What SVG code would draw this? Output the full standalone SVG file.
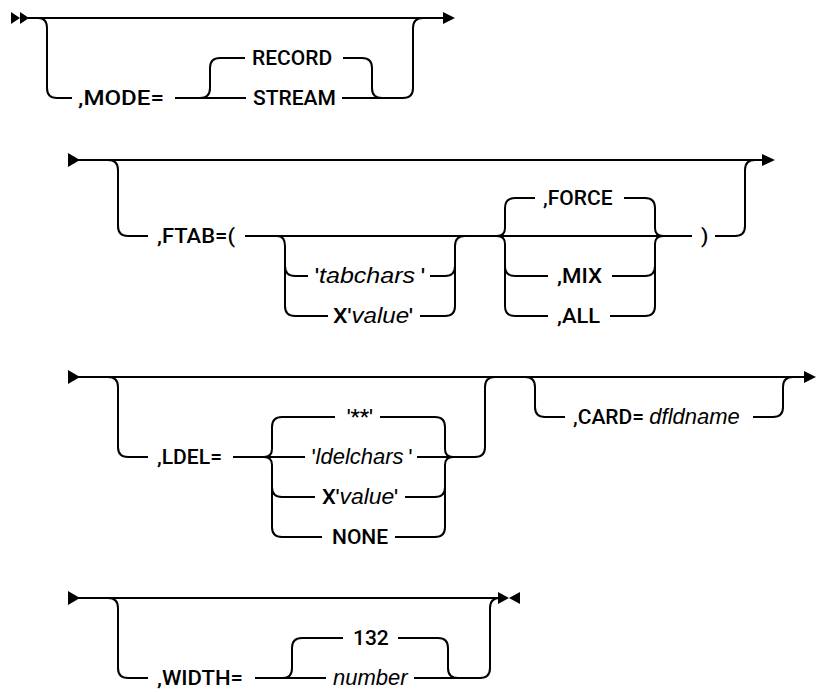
<svg xmlns="http://www.w3.org/2000/svg" width="817" height="692" viewBox="0 0 817 692">
<style>
.c{fill:none;stroke:#000;stroke-width:2}
.a{fill:#000;stroke:none}
.k{font-family:Roboto,"Liberation Sans",sans-serif;font-weight:500;font-size:21px;fill:#000}
.v{font-family:"Liberation Sans",Arial,sans-serif;font-style:italic;font-size:22px;font-weight:normal}
</style>
<rect width="817" height="692" fill="#fff"/>
<g id="connectors">
<polygon class="a" points="11,12 20,18 11,24"/>
<polygon class="a" points="20,12 29,18 20,24"/>
<path class="c" d="M28,18 H444"/>
<polygon class="a" points="443,12 455,18 443,24"/>
<path class="c" d="M38,18 Q47,18 47,28 V88 Q47,98 57,98 H72"/>
<path class="c" d="M175,98 H246"/>
<path class="c" d="M200,98 Q210,98 210,88 V68 Q210,58 220,58 H245"/>
<path class="c" d="M343,58 H362 Q372,58 372,68 V88 Q372,98 382,98"/>
<path class="c" d="M342,98 H403 Q413,98 413,88 V28 Q413,18 423,18"/>
<polygon class="a" points="68,153 80,160 68,167"/>
<path class="c" d="M78,160 H763"/>
<polygon class="a" points="762,154 775,160 762,166"/>
<path class="c" d="M108,160 Q118,160 118,170 V226 Q118,236 128,236 H148"/>
<path class="c" d="M245,236 H692"/>
<path class="c" d="M277,236 Q285,236 285,246 V306 Q285,316 295,316 H328"/>
<path class="c" d="M285,266 Q285,276 295,276 H308"/>
<path class="c" d="M420,316 H445 Q455,316 455,306 V246 Q455,236 465,236"/>
<path class="c" d="M430,276 H445 Q455,276 455,266"/>
<path class="c" d="M497,236 Q505,236 505,228 V208 Q505,198 515,198 H535"/>
<path class="c" d="M497,236 Q505,236 505,244 V306 Q505,316 515,316 H548"/>
<path class="c" d="M505,266 Q505,276 515,276 H548"/>
<path class="c" d="M624,198 H645 Q655,198 655,208 V228 Q655,236 663,236"/>
<path class="c" d="M612,276 H645 Q655,276 655,266"/>
<path class="c" d="M610,316 H645 Q655,316 655,306 V244 Q655,236 663,236"/>
<path class="c" d="M715,236 H735 Q745,236 745,226 V170 Q745,160 755,160"/>
<polygon class="a" points="68,370 80,377 68,384"/>
<path class="c" d="M78,377 H805"/>
<polygon class="a" points="804,371 816,377 804,383"/>
<path class="c" d="M108,377 Q118,377 118,387 V447 Q118,457 128,457 H148"/>
<path class="c" d="M233,457 H305"/>
<path class="c" d="M264,457 Q272,457 272,449 V427 Q272,417 282,417 H335"/>
<path class="c" d="M264,457 Q272,457 272,465 V527 Q272,537 282,537 H322"/>
<path class="c" d="M272,487 Q272,497 282,497 H315"/>
<path class="c" d="M380,417 H435 Q445,417 445,427 V449 Q445,457 453,457"/>
<path class="c" d="M417,457 H475 Q485,457 485,447 V387 Q485,377 495,377"/>
<path class="c" d="M395,537 H435 Q445,537 445,527 V465 Q445,457 453,457"/>
<path class="c" d="M405,497 H435 Q445,497 445,487"/>
<path class="c" d="M525,377 Q535,377 535,387 V407 Q535,417 545,417 H565"/>
<path class="c" d="M753,417 H773 Q783,417 783,407 V387 Q783,377 793,377"/>
<polygon class="a" points="68,591 80,598 68,605"/>
<path class="c" d="M78,598 H500"/>
<polygon class="a" points="498,592 509,598 498,604"/>
<polygon class="a" points="520,592 509,598 520,604"/>
<path class="c" d="M108,598 Q118,598 118,608 V668 Q118,678 128,678 H148"/>
<path class="c" d="M255,678 H326"/>
<path class="c" d="M283,678 Q292,678 292,668 V648 Q292,638 302,638 H343"/>
<path class="c" d="M398,638 H438 Q448,638 448,648 V668 Q448,678 458,678"/>
<path class="c" d="M414,678 H480 Q490,678 490,668 V608 Q490,598 500,598"/>
</g>
<g id="n-mode"><text class="k" x="78" y="105" textLength="86" lengthAdjust="spacingAndGlyphs">,MODE=</text></g>
<g id="n-record"><text class="k" x="252" y="65">RECORD</text></g>
<g id="n-stream"><text class="k" x="253" y="105">STREAM</text></g>
<g id="n-ftab"><text class="k" x="157" y="243" textLength="78" lengthAdjust="spacingAndGlyphs">,FTAB=(</text></g>
<g id="n-tabchars"><text class="k" x="315" y="283" textLength="110" lengthAdjust="spacingAndGlyphs">'<tspan class="v">tabchars</tspan> '</text></g>
<g id="n-xvalue1"><text class="k" x="333" y="323" textLength="80" lengthAdjust="spacingAndGlyphs">X'<tspan class="v">value</tspan>'</text></g>
<g id="n-force"><text class="k" x="543" y="205">,FORCE</text></g>
<g id="n-mix"><text class="k" x="557" y="283" textLength="45" lengthAdjust="spacingAndGlyphs">,MIX</text></g>
<g id="n-all"><text class="k" x="557" y="323" textLength="43" lengthAdjust="spacingAndGlyphs">,ALL</text></g>
<g id="n-paren"><text class="k" x="701" y="243">)</text></g>
<g id="n-ldel"><text class="k" x="157" y="464" textLength="65" lengthAdjust="spacingAndGlyphs">,LDEL=</text></g>
<g id="n-stars"><text class="k" x="347" y="424">'**'</text></g>
<g id="n-ldelchars"><text class="k" x="312" y="464">'<tspan class="v">ldelchars</tspan> '</text></g>
<g id="n-xvalue2"><text class="k" x="322" y="504" textLength="76" lengthAdjust="spacingAndGlyphs">X'<tspan class="v">value</tspan>'</text></g>
<g id="n-none"><text class="k" x="332" y="544">NONE</text></g>
<g id="n-card"><text class="k" x="573" y="424">,CARD= <tspan class="v">dfldname</tspan></text></g>
<g id="n-width"><text class="k" x="157" y="685" textLength="86" lengthAdjust="spacingAndGlyphs">,WIDTH=</text></g>
<g id="n-132"><text class="k" x="353" y="645">132</text></g>
<g id="n-number"><text class="k" x="333" y="685"><tspan class="v">number</tspan></text></g>
</svg>
